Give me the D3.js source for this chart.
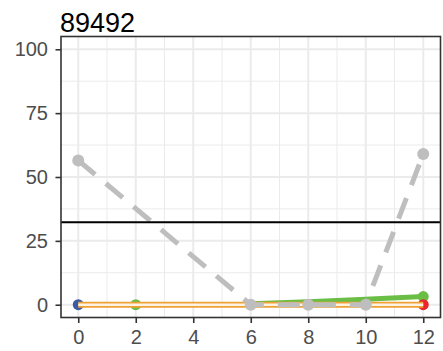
<!DOCTYPE html>
<html>
<head>
<meta charset="utf-8">
<script src="https://cdn.jsdelivr.net/npm/d3@7"></script>
<style>
  body { margin: 0; background: #fff; }
  text { font-family: "Liberation Sans", Arial, sans-serif; }
</style>
</head>
<body>
<div class="chart"></div>
<script>
var title = "89492";
var xTicks = [0, 2, 4, 6, 8, 10, 12];
var yTicks = [0, 25, 50, 75, 100];
var refLine = 32.3;

// series
var grayX = [0, 6, 8, 10, 12];
var grayY = [56.5, 0, 0, 0, 59];
var greenX = [6, 8, 10, 12];
var greenY = [0.4, 1.2, 2.1, 3.2];
var greenPtX = [2, 12];
var greenPtY = [0, 3.2];
var orangeX = [0, 12];
var orangeY = [0, 0];
var blueX = [0];
var blueY = [0];
var redX = [12];
var redY = [0];

var W = 443, H = 351;
var pLeft = 61, pRight = 440.5, pTop = 36.5, pBottom = 317.5;

var svg = d3.select(".chart")
  .append("svg")
  .attr("width", W)
  .attr("height", H);

var x = d3.scaleLinear().domain([-0.6, 12.6]).range([pLeft, pRight]);
var y = d3.scaleLinear().domain([-5, 105]).range([pBottom, pTop]);

// minor grid
var xMinor = d3.range(1, 12, 2);
var yMinor = [12.5, 37.5, 62.5, 87.5];
svg.selectAll(".xminor").data(xMinor).enter().append("line")
  .attr("x1", d => x(d)).attr("x2", d => x(d))
  .attr("y1", pTop).attr("y2", pBottom)
  .attr("stroke", "#ebebeb").attr("stroke-width", 1);
svg.selectAll(".yminor").data(yMinor).enter().append("line")
  .attr("y1", d => y(d)).attr("y2", d => y(d))
  .attr("x1", pLeft).attr("x2", pRight)
  .attr("stroke", "#ebebeb").attr("stroke-width", 1);

// major grid
svg.selectAll(".xmajor").data(xTicks).enter().append("line")
  .attr("x1", d => x(d)).attr("x2", d => x(d))
  .attr("y1", pTop).attr("y2", pBottom)
  .attr("stroke", "#ebebeb").attr("stroke-width", 2);
svg.selectAll(".ymajor").data(yTicks).enter().append("line")
  .attr("y1", d => y(d)).attr("y2", d => y(d))
  .attr("x1", pLeft).attr("x2", pRight)
  .attr("stroke", "#ebebeb").attr("stroke-width", 2);

var line = d3.line().x(d => x(d[0])).y(d => y(d[1]));

// green line
svg.append("path")
  .datum(d3.zip(greenX, greenY))
  .attr("d", line)
  .attr("fill", "none")
  .attr("stroke", "#6abd45")
  .attr("stroke-width", 5);

// points under the orange line
function dots(xs, ys, col, r) {
  svg.append("g").selectAll("circle")
    .data(d3.zip(xs, ys)).enter().append("circle")
    .attr("cx", d => x(d[0])).attr("cy", d => y(d[1]))
    .attr("r", r).attr("fill", col);
}
dots(blueX, blueY, "#3b5ba5", 5.5);
dots(greenPtX, greenPtY, "#6abd45", 5.5);
dots(redX, redY, "#e8262b", 5.5);

// orange line with light centre
svg.append("path")
  .datum(d3.zip(orangeX, orangeY))
  .attr("d", line)
  .attr("fill", "none")
  .attr("stroke", "#eea236")
  .attr("stroke-width", 6);
svg.append("path")
  .datum(d3.zip(orangeX, orangeY))
  .attr("d", line)
  .attr("fill", "none")
  .attr("stroke", "#fdf3e3")
  .attr("stroke-width", 2.5);

// gray dashed
svg.append("path")
  .datum(d3.zip(grayX, grayY))
  .attr("d", line)
  .attr("fill", "none")
  .attr("stroke", "#bebebe")
  .attr("stroke-width", 5)
  .attr("stroke-dasharray", "22,14");
dots(grayX, grayY, "#bebebe", 6);

// reference line
svg.append("line")
  .attr("x1", pLeft).attr("x2", pRight)
  .attr("y1", y(refLine)).attr("y2", y(refLine))
  .attr("stroke", "#000").attr("stroke-width", 2);

// panel border
svg.append("rect")
  .attr("x", pLeft).attr("y", pTop)
  .attr("width", pRight - pLeft).attr("height", pBottom - pTop)
  .attr("fill", "none").attr("stroke", "#333").attr("stroke-width", 1.6);

// axes
var xAxis = svg.append("g")
  .attr("transform", "translate(0," + pBottom + ")")
  .call(d3.axisBottom(x).tickValues(xTicks).tickSize(5.5).tickPadding(7));
var yAxis = svg.append("g")
  .attr("transform", "translate(" + pLeft + ",0)")
  .call(d3.axisLeft(y).tickValues(yTicks).tickSize(5.5).tickPadding(7.5));
[xAxis, yAxis].forEach(function(g) {
  g.select(".domain").remove();
  g.selectAll("line").attr("stroke", "#333").attr("stroke-width", 1.6);
  g.selectAll("text").attr("fill", "#4d4d4d").style("font-size", "20px")
    .style("font-family", "Liberation Sans, Arial, sans-serif");
});

svg.append("text")
  .attr("x", pLeft - 1)
  .attr("y", 31.5)
  .attr("fill", "#000")
  .style("font-size", "27px")
  .text(title);
</script>
</body>
</html>
